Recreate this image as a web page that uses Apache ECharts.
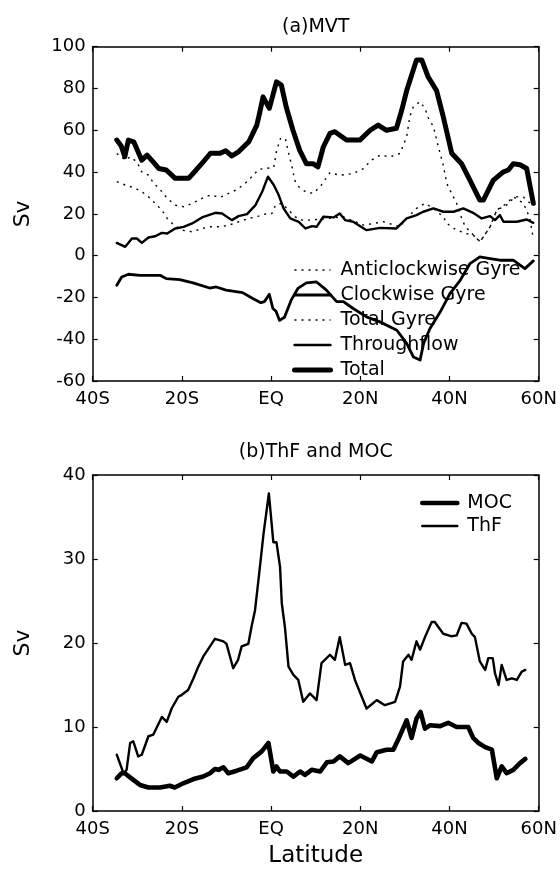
<!DOCTYPE html>
<html>
<head>
<meta charset="utf-8">
<script src="https://cdn.jsdelivr.net/npm/echarts@6/dist/echarts.min.js"></script>
<style>html,body{margin:0;padding:0;background:#fff;}#c{width:560px;height:871px;}</style>
</head>
<body>
<div id="c"></div>
<script>
// ---------- tick labels ----------
const latTickVals = [-40, -20, 0, 20, 40, 60];
const latTickLabels = ['40S', '20S', 'EQ', '20N', '40N', '60N'];

// ---------- panel (a) MVT ----------
const totalLat = [-34.6,-33.6,-32.8,-32.0,-30.8,-29.0,-27.8,-26.1,-25.2,-23.5,-21.5,-18.5,-16.8,-15.5,-13.6,-11.4,-10.2,-8.8,-7.3,-5.0,-3.2,-2.6,-1.8,-0.4,1.2,2.3,3.4,4.9,6.4,7.9,9.4,10.5,11.7,13.2,14.3,16.9,19.9,22.2,24.0,25.9,28.1,29.3,30.4,32.6,33.8,35.2,37.1,38.6,40.5,42.7,44.6,46.8,47.6,49.8,52.0,53.2,54.3,55.8,57.3,58.8];
const totalVal = [55.3,52.5,47.4,55.3,54.5,45.7,48.1,44.0,41.7,41.0,37.0,37.0,41.0,44.2,49.0,49.0,50.2,47.7,49.7,54.5,62.5,68.0,76.0,70.5,83.2,81.6,71.0,60.0,50.5,44.0,44.0,42.5,52.0,58.5,59.3,55.3,55.3,60.0,62.5,60.0,61.0,69.7,79.0,93.6,93.6,85.6,79.0,66.5,49.0,44.0,36.0,26.6,26.6,36.0,40.0,41.0,44.0,43.5,41.7,25.0];

const thrLat = [-34.6,-32.7,-31.2,-30.1,-29.0,-27.5,-26.0,-24.5,-23.3,-21.5,-19.6,-17.7,-15.5,-12.5,-11.0,-8.8,-7.3,-5.4,-3.5,-2.0,-0.7,0.6,1.7,2.8,4.3,6.2,7.7,9.2,10.2,11.7,14.0,15.4,16.6,18.4,21.4,24.4,28.1,30.4,32.6,34.1,36.4,38.6,40.9,43.1,45.3,47.2,49.1,50.2,51.3,52.1,55.1,57.3,58.8];
const thrVal = [6.1,4.2,8.2,8.2,6.1,8.7,9.3,10.9,10.6,13.0,13.8,15.4,18.3,20.5,20.2,17.0,18.9,19.9,24.2,30.6,37.8,33.8,29.0,22.6,17.8,16.2,13.0,14.1,13.8,18.6,18.3,20.2,17.0,16.2,12.2,13.3,13.0,17.8,19.4,21.0,22.6,21.0,21.0,22.6,20.5,17.8,18.9,17.0,19.4,16.2,16.2,17.3,15.7];

const cwLat = [-34.6,-33.5,-32.0,-29.4,-24.9,-23.5,-20.5,-17.5,-13.8,-12.3,-10.1,-6.4,-4.1,-2.3,-1.5,-0.4,0.4,1.1,1.9,3.0,4.5,6.0,7.9,10.2,12.4,14.7,16.2,18.4,21.4,24.4,28.2,30.4,31.9,33.4,34.2,35.6,37.9,40.1,42.4,44.6,46.8,49.1,51.3,54.3,56.9,58.8];
const cwVal = [-14.2,-10.2,-8.9,-9.4,-9.4,-11.0,-11.5,-13.0,-15.5,-15.0,-16.5,-17.7,-20.5,-22.5,-22.0,-18.5,-25.3,-26.6,-31.0,-29.5,-21.3,-15.7,-13.0,-12.6,-16.5,-22.0,-22.0,-25.3,-29.3,-31.7,-35.7,-42.0,-48.5,-50.0,-42.0,-35.0,-27.0,-18.2,-11.8,-3.8,-0.6,-1.4,-2.2,-2.2,-6.2,-2.5];

const tgLat = [-34.6,-32.7,-31.6,-30.1,-29.0,-27.5,-26.3,-24.8,-23.3,-21.5,-19.6,-17.7,-15.5,-13.6,-11.4,-9.5,-7.6,-5.8,-4.3,-2.8,-1.3,0.6,1.2,2.1,3.2,3.8,4.7,5.3,6.2,7.7,9.5,11.0,13.2,15.4,18.4,20.7,22.5,24.4,26.7,28.9,30.4,31.1,31.9,33.4,34.5,35.3,36.4,37.5,38.6,39.4,40.5,41.6,42.3,43.5,45.3,46.8,47.6,49.1,50.6,52.8,54.3,56.6,58.0,58.8];
const tgVal = [48.9,45.7,47.3,44.9,40.1,38.5,34.6,31.4,27.4,24.2,23.4,25.0,27.4,29.0,27.9,29.8,31.7,34.6,37.8,41.3,41.7,42.2,50.0,56.1,56.1,50.0,42.5,36.0,33.0,30.6,29.8,33.0,39.7,38.5,39.3,41.7,45.7,48.1,47.3,48.9,56.9,66.5,71.3,73.7,70.5,65.7,61.7,52.1,43.3,34.5,29.7,25.0,20.2,14.0,10.0,6.6,9.0,13.8,21.8,25.0,28.2,25.0,18.0,8.0];

const acLat = [-34.6,-32.7,-30.4,-29.0,-27.5,-26.0,-24.5,-23.3,-21.8,-20.0,-17.7,-15.5,-13.6,-11.4,-9.5,-7.3,-5.0,-2.8,-1.3,0.2,1.0,2.4,3.9,5.4,6.9,8.8,12.5,16.2,20.7,25.2,28.9,30.0,32.6,34.5,36.4,38.6,39.4,41.6,43.8,46.1,46.8,47.6,49.1,50.6,52.8,54.7,56.6,58.1,58.8];
const acVal = [35.4,33.8,32.2,30.6,28.2,25.0,21.8,17.8,14.6,12.2,11.4,13.0,13.8,13.8,14.6,16.2,17.8,18.9,19.9,20.2,24.2,25.0,21.8,18.6,17.0,17.0,17.8,18.6,14.6,16.2,13.8,17.0,22.6,25.0,22.6,18.6,15.4,12.2,10.6,9.0,6.6,9.0,13.8,21.8,24.2,28.2,28.0,25.0,24.0];

// ---------- panel (b) ThF and MOC ----------
const thfLat = [-34.6,-33.1,-32.4,-31.6,-30.9,-29.8,-29.0,-27.5,-26.4,-24.5,-23.4,-22.3,-20.8,-20.1,-18.6,-17.4,-16.3,-15.2,-13.7,-12.6,-10.7,-10.0,-8.5,-7.4,-6.6,-5.1,-4.4,-3.6,-2.5,-1.7,-0.5,0.5,1.2,2.0,2.4,3.1,3.9,5.0,6.1,7.2,8.7,10.2,10.6,11.3,13.2,14.3,15.4,16.6,17.7,18.8,21.4,23.7,25.5,27.8,28.9,29.6,30.8,31.5,32.6,33.4,34.5,36.0,36.7,38.6,40.5,41.6,42.7,43.8,45.0,45.7,46.8,48.0,48.7,49.7,50.2,51.0,51.7,52.8,54.0,55.1,56.2,57.0];
const thfVal = [6.7,4.5,4.9,8.1,8.3,6.5,6.7,8.9,9.1,11.2,10.6,12.2,13.6,13.8,14.4,15.8,17.2,18.4,19.6,20.5,20.2,19.9,17.0,18.0,19.6,19.9,21.9,23.9,29.1,33.0,37.8,32.0,32.0,29.1,24.7,21.9,17.2,16.2,15.6,13.0,14.0,13.2,13.0,17.6,18.6,18.0,20.7,17.4,17.6,15.6,12.2,13.2,12.6,13.0,14.8,17.8,18.6,18.0,20.2,19.2,20.7,22.5,22.5,21.1,20.8,20.9,22.4,22.3,21.1,20.7,17.8,16.8,18.2,18.2,16.4,15.0,17.4,15.6,15.8,15.6,16.6,16.8];

const mocLat = [-34.6,-33.5,-32.8,-30.9,-29.4,-27.5,-24.9,-22.7,-21.6,-19.7,-17.4,-15.2,-13.7,-12.6,-11.8,-10.7,-9.6,-7.7,-5.5,-4.0,-2.1,-0.6,0.5,1.2,2.0,3.5,5.0,6.5,7.6,9.1,11.0,12.5,14.0,15.4,17.3,20.0,22.6,23.7,25.9,27.4,28.5,30.4,31.5,32.6,33.5,34.5,35.6,37.9,39.7,41.6,44.2,45.3,46.5,48.0,49.5,50.6,51.7,52.8,54.3,55.8,57.0];
const mocVal = [3.9,4.5,4.5,3.7,3.1,2.8,2.8,3.0,2.8,3.3,3.8,4.1,4.5,5.0,4.9,5.2,4.5,4.8,5.2,6.3,7.1,8.1,4.7,5.3,4.7,4.7,4.1,4.7,4.3,4.9,4.7,5.8,5.9,6.5,5.7,6.6,5.9,7.0,7.3,7.3,8.5,10.8,8.7,11.0,11.8,9.8,10.2,10.1,10.5,10.0,10.0,8.7,8.1,7.6,7.3,3.9,5.3,4.5,4.9,5.7,6.2];

const FONT = 'DejaVu Sans';
const BLACK = '#000';
const CLEAR = 'rgba(0,0,0,0)';
function zip(a, b) { return a.map((v, i) => [v, b[i]]); }
function latFmt(v) { const i = latTickVals.indexOf(v); return i >= 0 ? latTickLabels[i] : ''; }

const DOT = { color: BLACK, width: 1.4, type: [2, 5], cap: 'butt' };
function solid(w) { return { color: BLACK, width: w, type: 'solid', cap: 'round', join: 'round' }; }

function xAx(grid, pos, opts) {
  return Object.assign({
    gridIndex: grid, type: 'value', position: pos, min: -40, max: 60, interval: 20,
    axisLine: { show: true, onZero: false, lineStyle: { color: BLACK, width: 1.5 } },
    axisTick: { show: true, inside: true, length: 5, lineStyle: { color: BLACK, width: 1.2 } },
    axisLabel: { show: pos === 'bottom', formatter: latFmt, color: BLACK, fontSize: 18, fontFamily: FONT, margin: 9 },
    splitLine: { show: false }
  }, opts || {});
}
function yAx(grid, pos, min, max, step, opts) {
  return Object.assign({
    gridIndex: grid, type: 'value', position: pos, min: min, max: max, interval: step,
    axisLine: { show: true, onZero: false, lineStyle: { color: BLACK, width: 1.5 } },
    axisTick: { show: true, inside: true, length: 5, lineStyle: { color: BLACK, width: 1.2 } },
    axisLabel: { show: pos === 'left', color: BLACK, fontSize: 18, fontFamily: FONT, margin: 7 },
    splitLine: { show: false }
  }, opts || {});
}
const nameStyle = (fs) => ({ color: BLACK, fontSize: fs, fontFamily: FONT });

function line(name, lat, val, ls, xi, yi) {
  return { name: name, type: 'line', xAxisIndex: xi, yAxisIndex: yi, data: zip(lat, val),
    symbol: 'none', showSymbol: false, lineStyle: ls, itemStyle: { color: BLACK },
    emphasis: { disabled: true }, silent: true, clip: true };
}

const legendText = { color: BLACK, fontSize: 19, fontFamily: FONT, lineHeight: 19, padding: [0, 0, 0, 5] };
function li(name, ls) {
  return { name: name, lineStyle: ls,
    itemStyle: { color: CLEAR, borderColor: CLEAR, borderWidth: 0, opacity: 0 } };
}

const option = {
  animation: false,
  backgroundColor: '#fff',
  grid: [
    { left: 92.7, top: 46.7, width: 446, height: 334.3 },
    { left: 92.7, top: 475, width: 446, height: 336 }
  ],
  xAxis: [
    xAx(0, 'bottom'),
    xAx(0, 'top', { name: '(a)MVT', nameLocation: 'middle', nameGap: 10, nameTextStyle: nameStyle(19) }),
    xAx(1, 'bottom', { name: 'Latitude', nameLocation: 'middle', nameGap: 34, nameTextStyle: nameStyle(23) }),
    xAx(1, 'top', { name: '(b)ThF and MOC', nameLocation: 'middle', nameGap: 13, nameTextStyle: nameStyle(19) })
  ],
  yAxis: [
    yAx(0, 'left', -60, 100, 20, { name: 'Sv', nameLocation: 'middle', nameGap: 58, nameRotate: 90, nameTextStyle: nameStyle(22) }),
    yAx(0, 'right', -60, 100, 20),
    yAx(1, 'left', 0, 40, 10, { name: 'Sv', nameLocation: 'middle', nameGap: 58, nameRotate: 90, nameTextStyle: nameStyle(22) }),
    yAx(1, 'right', 0, 40, 10)
  ],
  legend: [
    { orient: 'vertical', left: 287, top: 255.5, itemWidth: 36, itemHeight: 14, itemGap: 6, selectedMode: false,
      textStyle: legendText,
      data: [
        li('Anticlockwise Gyre', DOT),
        li('Clockwise Gyre', solid(2.8)),
        li('Total Gyre', DOT),
        li('Throughflow', solid(2.4)),
        li('Total', solid(5))
      ] },
    { orient: 'vertical', left: 415, top: 488.5, itemWidth: 35, itemHeight: 14, itemGap: 4, selectedMode: false,
      textStyle: legendText,
      data: [
        li('MOC', solid(4.6)),
        li('ThF', solid(2.4))
      ] }
  ],
  series: [
    line('Anticlockwise Gyre', acLat, acVal, DOT, 0, 0),
    line('Clockwise Gyre', cwLat, cwVal, solid(2.8), 0, 0),
    line('Total Gyre', tgLat, tgVal, DOT, 0, 0),
    line('Throughflow', thrLat, thrVal, solid(2.4), 0, 0),
    line('Total', totalLat, totalVal, solid(5), 0, 0),
    line('MOC', mocLat, mocVal, solid(4.6), 2, 2),
    line('ThF', thfLat, thfVal, solid(2.4), 2, 2)
  ]
};

const chart = echarts.init(document.getElementById('c'), null, { renderer: 'canvas' });
chart.setOption(option);
</script>
</body>
</html>
